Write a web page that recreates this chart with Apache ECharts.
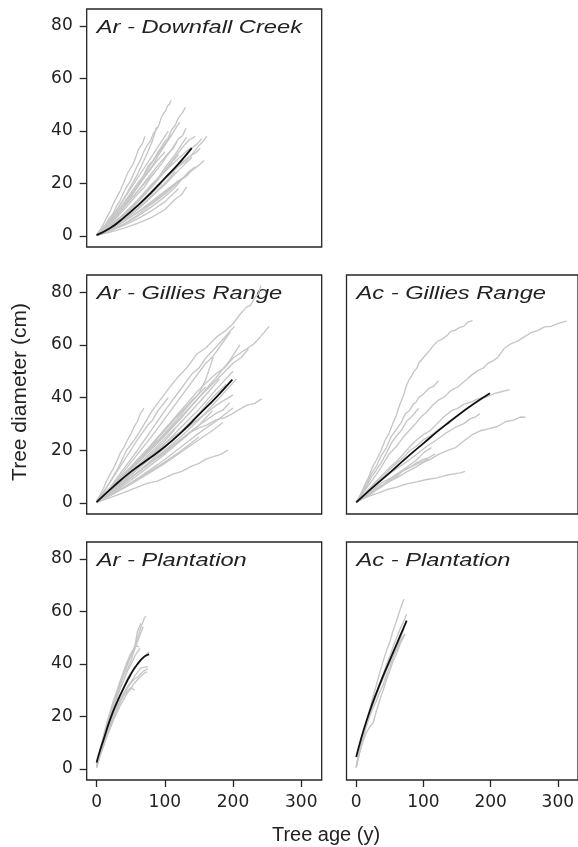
<!DOCTYPE html>
<html>
<head>
<meta charset="utf-8">
<title>Tree diameter by age</title>
<script src="https://cdn.jsdelivr.net/npm/echarts@6/dist/echarts.min.js"></script>
<style>
  html, body { margin: 0; padding: 0; background: #fff; }
  #main { width: 578px; height: 847px; }
</style>
</head>
<body>
<div id="main"></div>
<script>
// axis ticks
var ageTicks = [0, 100, 200, 300];
var diamTicks = [0, 20, 40, 60, 80];

// Ar - Downfall Creek : [age, diameter]
var arDownfallMean = [[0,0.3],[20,3],[40,7],[60,11.5],[80,16.5],[100,22],[120,27.5],[139.5,33.5]];
var arDownfallTrees = [
  [[0,0.4],[6,2],[12,4],[18,6.5],[24,8.5],[29,11.2],[34,13.2],[39,16.2],[44,18.7],[49,20.6],[54,23.5],[59,26.4],[64,28.8],[69,32],[74,34.5],[79,36.2],[83,39],[87,40.2],[91,42],[95,45.2],[98,46.6],[101,47.6],[104,49.5],[107,50.3],[109,51.7]],
  [[0,0.3],[15,4],[30,9],[45,14.5],[60,20],[68,22.6],[75,26.5],[83,28.8],[90,32],[100,36],[105,37.4],[110,40.5],[115,42.1],[120,45],[126,47],[130,49]],
  [[0,0.5],[5,2.2],[10,4.5],[15,7.2],[20,9.5],[25,12.6],[30,15],[35,17.4],[40,20.5],[45,23.7],[50,26],[54,27.6],[58,30.5],[61,32.8],[64,34],[67,35.1],[71,38]],
  [[0,0.3],[15,3.5],[30,8],[45,13],[60,18.5],[75,24.5],[82,26.8],[90,30.5],[100,34.5],[110,38.5],[117,41.5],[122,43.4]],
  [[0,0.3],[20,4.5],[40,10],[60,16],[70,18.6],[80,22.5],[95,27.5],[110,33],[120,37],[126,38.2],[131,41]],
  [[0,0.3],[20,3.5],[40,8],[60,13.5],[80,19.5],[90,22],[100,26],[115,31],[125,35],[132,37.7]],
  [[0,0.3],[20,3],[40,7],[60,11.5],[80,16.5],[100,21.5],[120,26.5],[130,28.3],[140,31],[150,34.5],[156,36],[161.5,38]],
  [[0,0.3],[20,4],[40,8.5],[60,13.5],[80,19],[100,24.5],[120,29.5],[135,33],[141,33.8],[147,35],[154,37]],
  [[0,0.2],[20,2.5],[40,5.5],[60,9],[80,13],[100,17],[120,21],[130,22.4],[140,25],[150,27],[157.6,28.8]],
  [[0,0.2],[20,2.5],[40,5.5],[60,9],[80,12.5],[100,16.5],[120,21],[128,22.4],[135,24.5],[144,26.3]],
  [[0,0.3],[20,3.5],[40,7.5],[60,12],[80,17],[100,22],[120,27],[140,31],[146,31.8],[152,33.4]],
  [[0,0.3],[15,3.5],[30,8],[45,12.5],[60,17],[75,22],[90,27],[105,31.5],[112,33.2],[118,36]],
  [[0,0.4],[15,4],[30,9],[45,14],[60,19],[75,24],[88,28.5],[100,32]],
  [[0,0.3],[20,3],[40,6.5],[60,10.5],[80,15],[100,19.5],[120,25],[140,30]],
  [[0,0.2],[20,2],[40,4.5],[60,7.5],[80,11],[100,15],[115,18.5],[126,22]],
  [[0,0.3],[20,3.5],[40,8],[60,13],[80,18.5],[95,23],[110,28]],
  [[0,0.3],[20,3],[40,7],[60,11.5],[80,16],[95,20]],
  [[0,0.2],[20,2],[40,4.5],[60,8],[80,12],[100,16],[120,20.5],[135,24]],
  [[0,0.2],[20,1.5],[40,3],[60,4.8],[80,7],[100,10],[115,14],[124,15.6],[132,18.7]],
  [[0,0.2],[20,2],[40,4],[60,6.5],[80,9.5],[100,13],[120,18]],
  [[0,0.4],[15,3.5],[30,8],[45,12.5],[60,17],[72,20.5],[85,24]],
  [[0,0.4],[15,4.5],[30,10],[45,16],[60,22],[75,28],[90,34],[105,40]],
  [[0,0.4],[15,4.5],[30,10],[45,16.5],[60,23.5],[75,32],[82,36.4],[88,41.5]],
  [[0,0.3],[10,2.5],[20,5],[30,8],[40,11.5],[50,15],[60,19],[70,23.5],[80,27.5],[90,31.5],[100,35],[110,38.5]],
  [[0,0.3],[15,2.5],[30,5.5],[45,9],[60,13],[75,17.5],[90,22],[105,26.5],[120,31]],
  [[0,0.2],[15,2],[30,4.5],[45,7],[60,10],[75,13.5],[90,17.5],[105,21.5],[115,24.5]],
  [[0,0.3],[20,3.5],[40,8],[60,13],[80,18.5],[100,25],[115,30],[125,33.5],[135,36.5],[145,38]]
];

// Ar - Gillies Range
var arGilliesMean = [[0,0.3],[25,6.3],[50,11.8],[75,16.5],[100,21.3],[125,27],[150,33.5],[175,40],[199,46.8]];
var arGilliesTrees = [
  [[0,0.5],[10,4],[20,8],[32,13.5],[44,20],[57,24.5],[70,30],[82,35.2],[93,39],[106,43.5],[120,48],[133,51.5],[147,56.5],[160,58.8],[176,63],[188,65.2],[200,68],[210,71.5],[220,74.3],[226,75.1],[232,78],[237,79.2],[241,82.5]],
  [[0,0.3],[25,6],[50,13],[75,20],[100,28],[125,35.5],[150,43],[175,49],[188,51.4],[200,55],[220,58.5],[230,60.2],[240,63],[253,67]],
  [[0,0.5],[20,6],[40,13],[60,20],[80,27.5],[100,35],[120,42],[140,49],[150,51.2],[160,55],[180,60.5],[202,67]],
  [[0,0.4],[20,5.5],[40,12],[60,18.5],[80,25],[100,32],[120,39],[140,46],[160,53],[170,55.4],[180,59],[196,64.8]],
  [[0,0.3],[25,4.5],[50,9.5],[75,14.5],[100,19],[112,21.8],[125,24],[138,26.9],[150,28.5],[162,29.6],[175,31.5],[188,32.4],[200,34],[210,35.6],[220,37],[232,37.8],[242,39.5]],
  [[0,0.2],[25,2.5],[50,5],[75,7.5],[88,8.2],[100,9.5],[112,10.9],[125,12],[138,13.8],[150,15],[160,16.6],[170,17.5],[182,18.4],[193,20.1]],
  [[0,0.8],[5,3],[10,5.5],[15,8.6],[20,11],[25,13.2],[30,16],[35,19.1],[40,21],[45,23.8],[50,26],[55,28.9],[60,31],[64,33.8],[69.5,36]],
  [[0,0.6],[15,6],[30,12],[45,18],[60,24],[75,29.5],[82,31.4],[90,35],[105,39.9]],
  [[0,0.4],[25,6],[50,12.5],[75,19],[100,26],[125,33],[150,40],[175,46.5],[200,53],[212,55.2],[222.6,58.5]],
  [[0,0.3],[25,5],[50,10.5],[75,16],[100,21.5],[125,27],[150,32],[175,37],[200,41]],
  [[0,0.3],[25,4.5],[50,9.5],[75,14.5],[100,19.5],[125,24.5],[150,29.5],[175,34],[185,35.2],[195,38]],
  [[0,0.4],[25,5.5],[50,11.5],[75,18],[100,24.5],[125,31],[150,38],[165,42.5],[180,47]],
  [[0,0.3],[25,4.5],[50,9.5],[75,15],[100,21],[125,27.5],[150,34],[170,40],[190,45]],
  [[0,0.3],[25,4],[50,8.5],[75,13.5],[100,18.5],[125,24],[150,29.5],[170,35]],
  [[0,0.3],[25,3.5],[50,7],[75,11],[100,15],[125,19.5],[150,24],[170,27.5],[185,30.5]],
  [[0,0.4],[20,5],[40,10.5],[60,16],[80,22],[100,28],[120,33.5],[140,39],[160,44]],
  [[0,0.5],[20,5.5],[40,11],[60,16.5],[80,22],[100,27.5],[115,32],[130,36]],
  [[0,0.3],[25,5],[50,10.5],[75,16.5],[100,22.5],[125,29],[150,35.5],[175,43],[200,50]],
  [[0,0.3],[25,3.5],[50,7.5],[75,11.5],[100,15.5],[125,20],[150,25]],
  [[0,0.3],[25,4.5],[50,9.5],[75,14.5],[100,20],[125,25.5],[150,31.5],[175,38.5],[205,47]],
  [[0,0.5],[20,4.5],[40,9],[60,13.5],[80,18],[100,22.5],[120,26.5],[140,30]],
  [[0,0.4],[25,6],[50,12.5],[75,19],[100,25.5],[125,32.5],[150,40],[175,47.5],[195,54],[210,60]],
  [[0,0.4],[25,6],[50,12.5],[75,19.5],[100,26.5],[125,34],[150,41.5],[160,46.8],[171,55.3]],
  [[0,0.3],[25,3.5],[50,7.5],[75,12],[100,16.5],[125,21.5],[150,26.5],[175,31],[200,36]],
  [[0,0.4],[20,4.5],[40,9],[60,13.5],[80,18.5],[100,23.5],[115,28]],
  [[0,0.5],[15,4],[30,8],[45,12],[60,16],[75,20],[90,24]]
];

// Ac - Gillies Range
var acGilliesMean = [[0,0.2],[25,6],[50,11.5],[75,17.2],[100,22.6],[125,28],[150,33],[175,37.6],[199,41.6]];
var acGilliesTrees = [
  [[0,0.3],[6,3],[12,6.5],[18,9.5],[24,13.5],[30,16.3],[37,20],[43,23.8],[49,26.5],[55,30.5],[60,33.5],[65,37.5],[70,40.5],[74,44],[78,46.5],[82,48],[86,50],[90,51],[93,53],[100,55.2],[108,57.5],[115,59.8],[122,61.5],[128,62.2],[135,63.5],[141,65.2],[147,65.5],[153,66.5],[160,67],[166,68.6],[173,69.2]],
  [[0,0.3],[12,4.5],[25,9],[37,13.5],[49,18.6],[60,21.5],[70,25],[80,27.8],[88,30],[97,32.8],[105,34.5],[114,37.2],[122,39],[131,40.2],[140,42.5],[151,44],[162,46.4],[172,48.6],[181,50.2],[189,51.2],[196,53],[204,54],[211,55.3],[220,58.6],[230,60.4],[240,61.4],[250,63],[260,64.6],[270,65.4],[280,66.8],[290,67],[302,68.2],[313,69]],
  [[0,0.3],[25,7],[50,13.5],[62,16.2],[75,20],[88,23.5],[100,26],[110,27.4],[120,30],[131,32.8],[142,35],[151,35.9],[160,37.5],[170,38.2],[181,39.5],[193,40.1],[205,41.5],[216,42.2],[228,43]],
  [[0,0.3],[8,3.8],[15,7],[22,10.8],[30,14],[37,17.9],[45,21],[52,25.2],[60,28],[66,30.1],[73,33.8],[79,35],[85,37.5],[89,38.2],[93,40],[100,41.3],[108,43.5],[115,44.2],[122.5,46.4]],
  [[0,0.3],[15,2.8],[30,5],[45,7.5],[60,9.5],[75,11.8],[88,13.5],[100,15.4],[110,16.5],[124,18.6],[137,20],[148,21],[160,23.5],[172,25.8],[186,27.5],[198,28.2],[210,29],[222,30.8],[235,31.5],[244,32.6],[252,32.5]],
  [[0,0.3],[15,2.2],[30,3.5],[45,5],[60,6],[75,7.2],[90,8],[105,8.9],[120,9.5],[132,10.4],[145,11],[155,11.4],[162,12]],
  [[0,0.3],[15,3.8],[30,7],[45,10.2],[60,13],[75,15.6],[90,18.5],[105,21.5],[120,24],[135,26.8],[150,29],[160,30.1],[170,32],[177,32.6],[184,33.8]],
  [[0,0.3],[10,2.8],[20,5],[30,7.8],[40,10],[50,12.8],[60,15],[70,17.2],[80,20],[90,21.6],[100,24],[110,25.4],[120,27.5],[130,29.2],[140,30.6]],
  [[0,0.3],[10,2],[20,3.5],[30,5.6],[40,7],[50,9],[60,10.5],[70,12.2],[80,13.5],[90,15.3],[100,16.5],[108,17.2],[117.6,18.6]],
  [[0,0.3],[10,2.4],[20,4],[30,6.2],[40,8],[50,9.2],[60,11],[70,12.6],[80,13.5],[94,15.2],[108,16.7]],
  [[0,0.3],[10,1.8],[20,3],[30,4.9],[40,6.5],[50,8.4],[60,10],[70,12.5],[80,14.5],[90,16.4],[100,19],[112,21]],
  [[0,0.3],[8,3.4],[15,6],[22,9.6],[30,12.5],[37,15.2],[45,19],[52,22.6],[60,25.5],[68,27.8],[75,31],[84,33.2],[93,36]]
];

// Ar - Plantation
var arPlantMean = [[0,2.5],[5,7],[10,11],[20,19],[30,25.5],[40,31],[50,36],[60,40],[70,42.8],[77,43.7]];
var arPlantTrees = [
  [[0,1],[5,6],[10,11.5],[15,16],[20,20.5],[25,24.5],[30,28.5],[35,32.5],[40,36],[45,39.5],[50,43],[55,46],[60,50],[65,54],[70,57.5],[72,58.3]],
  [[0,0.8],[5,6.2],[10,11],[15,15.8],[20,19.5],[25,23.6],[30,27],[35,30.9],[40,34],[45,37.8],[50,41],[55,45],[60,48.5],[65,52],[68.5,54.2]],
  [[0,1],[5,6.6],[10,11.5],[15,16.2],[20,20],[25,24.1],[30,27.5],[35,31.2],[40,34],[45,37.2],[50,39.5],[57,43.5],[63.6,46]],
  [[0,0.6],[5,5.4],[10,9.5],[15,13.8],[20,17.5],[25,21.6],[30,25],[35,28.5],[40,31.5],[45,34.4],[50,36.5],[55,38.6],[60,40],[65,41.8],[70,43],[77,44.7]],
  [[0,0.8],[5,5.6],[10,10],[15,13.9],[20,17],[25,20.4],[30,23],[35,26.1],[40,28.5],[45,30.8],[50,32.5],[55,34.2],[60,35],[65,36.4],[70,37.5],[75.8,38.3]],
  [[0,0.5],[5,4.8],[10,8.5],[15,12.3],[20,15.5],[25,18.8],[30,21.5],[35,24.3],[40,26.5],[45,28.9],[50,30.5],[55,32.6],[60,34],[65,35.4],[70,36.5],[74,37]],
  [[0,1.2],[5,6.2],[10,10.5],[15,14.6],[20,18],[25,21.3],[30,24],[35,26.8],[40,29],[45,31.3],[50,33],[56,35.5],[65,38.5],[75,39]],
  [[0,0.5],[5,6.8],[10,12],[15,16.9],[20,21],[25,25.3],[30,29],[35,33],[40,36.5],[45,40.1],[50,43],[58,47],[62,46.5]],
  [[0,2],[5,5.2],[10,9],[15,12.8],[20,16],[25,19.6],[30,22.5],[35,25.6],[40,28],[45,29.8],[50,31],[56,30]],
  [[0,1],[5,7],[10,12.5],[15,17.6],[20,22],[25,26.3],[30,30],[35,33.9],[40,37.5],[45,41],[50,44],[56,46.5],[60,52.5],[65,55.5]]
];

// Ac - Plantation
var acPlantMean = [[0,4.6],[5,9.5],[10,14],[20,22],[30,29],[40,35.5],[50,41.5],[60,47.5],[70,53.5],[75,56.5]];
var acPlantTrees = [
  [[0,1],[5,6.5],[10,12.5],[15,17.8],[20,22.5],[25,27.6],[30,32],[35,36.8],[40,41],[45,45.1],[50,48.5],[55,52.9],[60,56.5],[65,60.5],[71,64.8]],
  [[0,0.5],[5,6.4],[10,11.5],[15,16.3],[20,20.5],[25,24.8],[30,28.5],[35,32.6],[40,36],[45,39.8],[50,43],[55,46.7],[60,50],[65,53.2],[70,56],[75,59]],
  [[0,0.8],[5,7.4],[10,13],[15,17.3],[20,21],[25,24.8],[30,28],[35,31.6],[40,34.5],[45,37.8],[50,40.5],[55,43.6],[60,46],[66,50],[71,53.3]],
  [[0,1.5],[5,6.4],[10,10.5],[15,13.8],[20,16],[25,17.5],[30,22],[35,26.3],[40,30],[45,34],[50,37.5],[55,41.2],[60,44],[66,48],[72.5,51.2]],
  [[0,0.5],[5,6.6],[10,12],[15,16.4],[20,20],[25,23.2],[30,26],[35,29.3],[40,32],[45,35.8],[50,39],[55,42.6],[60,45.5],[65,48.4],[70,50.5],[73,51.5]]
];

var panelTitles = ['Ar - Downfall Creek', 'Ar - Gillies Range', 'Ac - Gillies Range', 'Ar - Plantation', 'Ac - Plantation'];

var panels = [
  { trees: arDownfallTrees, mean: arDownfallMean, left: 86.7, top: 9, height: 238, xLab: false, yLab: true },
  { trees: arGilliesTrees, mean: arGilliesMean, left: 86.7, top: 275, height: 239, xLab: false, yLab: true },
  { trees: acGilliesTrees, mean: acGilliesMean, left: 346.5, top: 275, height: 239, xLab: false, yLab: false },
  { trees: arPlantTrees, mean: arPlantMean, left: 86.7, top: 542, height: 238, xLab: true, yLab: true },
  { trees: acPlantTrees, mean: acPlantMean, left: 346.5, top: 542, height: 238, xLab: true, yLab: false }
];

var inkColor = '#262626';
var tickFont = 'DejaVu Sans';

function drawChart () {
  var myChart = echarts.init(document.getElementById('main'), null, { renderer: 'canvas' });
  var grid = [], xAxis = [], yAxis = [], series = [], graphic = [];

  panels.forEach(function (p, i) {
    grid.push({
      show: true, left: p.left, top: p.top, width: 235, height: p.height,
      borderColor: inkColor, borderWidth: 1.3, backgroundColor: 'transparent'
    });
    xAxis.push({
      type: 'value', gridIndex: i, min: -14.5, max: 330, position: 'bottom',
      axisLine: { show: false, onZero: false }, splitLine: { show: false },
      axisTick: { show: p.xLab, inside: false, length: 7, customValues: ageTicks, lineStyle: { color: inkColor, width: 1.3 } },
      axisLabel: { show: p.xLab, customValues: ageTicks, margin: 14, color: '#222', fontFamily: tickFont, fontSize: 17 }
    });
    yAxis.push({
      type: 'value', gridIndex: i, min: -4.2, max: 86.5, position: 'left',
      axisLine: { show: false, onZero: false }, splitLine: { show: false },
      axisTick: { show: p.yLab, inside: false, length: 7, customValues: diamTicks, lineStyle: { color: inkColor, width: 1.3 } },
      axisLabel: { show: p.yLab, customValues: diamTicks, margin: 14, color: '#222', fontFamily: tickFont, fontSize: 17 }
    });
    p.trees.forEach(function (t) {
      series.push({
        type: 'line', xAxisIndex: i, yAxisIndex: i, data: t,
        symbol: 'none', silent: true, z: 2,
        lineStyle: { color: '#c6c6c6', width: 1.35 }
      });
    });
    series.push({
      type: 'line', xAxisIndex: i, yAxisIndex: i, data: p.mean,
      symbol: 'none', silent: true, smooth: true, z: 3,
      lineStyle: { color: '#111', width: 1.8 }
    });
    graphic.push({
      type: 'text', x: p.left + 10, y: p.top + 9, scaleX: 1.28, silent: true,
      style: { text: panelTitles[i], font: 'italic 18.5px "Liberation Sans"', fill: '#222', verticalAlign: 'top' }
    });
  });

  graphic.push({
    type: 'text', x: 20, y: 392, rotation: Math.PI / 2, silent: true,
    style: { text: 'Tree diameter (cm)', font: '21px "Liberation Sans"', fill: '#222', align: 'center', verticalAlign: 'middle' }
  });
  graphic.push({
    type: 'text', x: 326, y: 835, silent: true,
    style: { text: 'Tree age (y)', font: '20px "Liberation Sans"', fill: '#222', align: 'center', verticalAlign: 'middle' }
  });

  var option = {
    animation: false,
    backgroundColor: '#fff',
    grid: grid,
    xAxis: xAxis,
    yAxis: yAxis,
    series: series,
    graphic: graphic
  };
  myChart.setOption(option);
}

drawChart();
</script>
</body>
</html>
